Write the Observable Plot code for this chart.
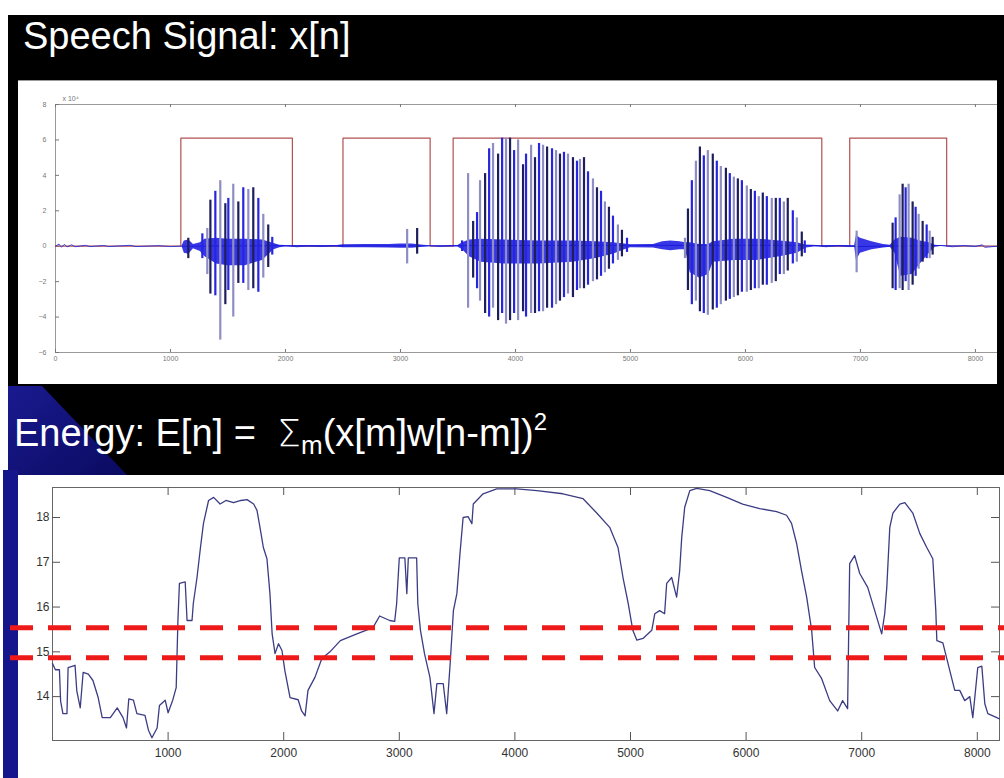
<!DOCTYPE html>
<html><head><meta charset="utf-8">
<script src="https://cdn.jsdelivr.net/npm/d3@7"></script>
<script src="https://cdn.jsdelivr.net/npm/@observablehq/plot@0.6"></script>
<style>
html,body{margin:0;padding:0;background:#fff;}
#slide{position:relative;width:1004px;height:778px;overflow:hidden;background:#fff;font-family:"Liberation Sans",Arial,sans-serif;}
#black{position:absolute;left:8px;top:15px;right:0;bottom:0;background:#000;}
.title{position:absolute;color:#fff;font-size:38px;line-height:1;white-space:nowrap;}
#box1{position:absolute;left:18px;top:80px;width:979px;height:304px;background:#fff;border-top:1px solid #999;box-sizing:border-box;}
#box2{position:absolute;left:18px;top:475px;width:986px;height:303px;background:#fff;}
#upper{position:absolute;left:18px;top:80px;}
#lower{position:absolute;left:0;top:470px;}
#deco{position:absolute;left:0;top:0;}
sub{font-size:26px;vertical-align:-8px;}
sup{font-size:24px;vertical-align:16px;}
.sig{font-family:"DejaVu Sans",sans-serif;font-weight:300;font-size:38px;}
</style></head>
<body>
<div id="slide">
  <div id="black"></div>
  <svg id="deco" width="1004" height="778">
    <defs><linearGradient id="g" x1="0" y1="0" x2="1" y2="1">
      <stop offset="0" stop-color="#1a1a90"/><stop offset="1" stop-color="#0a0a60"/></linearGradient></defs>
    <polygon points="8,386 42,386 128,476 8,476" fill="url(#g)"/>
    <rect x="3" y="470" width="15" height="308" fill="#15158c"/>
  </svg>
  <div class="title" style="left:23px;top:17px;">Speech Signal: x[n]</div>
  <div id="box1"></div>
  <div class="title" style="left:14px;top:410px;">Energy: E[n] = &nbsp;<span class="sig">Σ</span><sub>m</sub>(x[m]w[n-m])<sup>2</sup></div>
  <div id="box2"></div>
  <div id="upper"></div>
  <div id="lower"></div>
</div>
<script>
// ---------- Speech signal (units of 1e4) ----------
const upperXTicks = [0,1000,2000,3000,4000,5000,6000,7000,8000];
const upperYTicks = [-6,-4,-2,0,2,4,6,8];

// voiced/unvoiced decision boxes
const boxStart = [1090, 2500, 3458, 6907];
const boxEnd   = [2060, 3258, 6664, 7750];
const boxLevel = 6.1;

// pitch pulses: sample index, positive peak, negative peak
const pulseN = [1155,1277,1320,1347,1390,1433,1477,1503,1546,1590,1633,1677,1720,1764,1807,1850,1885,
  3058,3145,
  3536,3588,3632,3666,3692,3736,3771,3805,3849,3884,3918,3953,3988,4023,4066,4092,4136,4170,4205,4240,
  4275,4318,4353,4387,4422,4457,4500,4535,4561,4596,4631,4674,4709,4744,4778,4813,4848,4891,4926,4970,
  5474,5500,5534,5569,5604,5638,5673,5716,5751,5786,5830,5864,5899,5934,5969,6012,6047,6082,6116,6151,
  6186,6229,6264,6299,6334,6368,6412,6447,6490,6516,
  6967,
  7280,7306,7341,7367,7393,7419,7454,7480,7506,7541,7576,7602,7628];
const pulseTop = [0.45,0.7,1.0,2.6,3.1,3.7,2.4,2.7,3.5,2.5,3.3,3.2,3.3,2.7,1.8,1.2,0.5,
  0.95,1.0,
  0.3,4.1,1.4,1.9,3.7,4.1,5.5,5.8,5.2,6.1,6.1,6.1,5.4,6.0,4.6,5.2,5.7,5.0,5.8,5.7,
  5.6,5.5,5.4,5.2,5.3,5.2,5.0,4.8,4.9,5.0,4.2,3.8,3.3,3.1,2.5,2.2,1.7,1.2,0.9,0.45,
  0.45,2.1,3.7,4.8,5.6,5.1,5.4,5.2,4.8,4.5,4.4,4.1,3.9,3.8,3.7,3.4,3.2,3.1,2.8,3.0,
  2.8,2.7,2.7,2.7,2.5,2.7,2.0,1.6,0.8,0.3,
  0.85,
  1.3,1.6,2.9,3.5,3.3,3.5,2.5,2.2,1.8,1.4,1.2,0.85,0.5];
const pulseBot = [-0.7,-0.7,-1.6,-2.7,-2.8,-5.3,-3.3,-2.5,-4.0,-2.1,-2.1,-2.5,-2.4,-2.6,-1.8,-1.2,-0.5,
  -1.0,-0.45,
  -0.3,-3.5,-1.8,-2.4,-3.1,-3.8,-4.0,-3.5,-4.2,-3.8,-4.4,-4.2,-3.8,-4.2,-3.7,-4.0,-3.8,-3.8,-3.7,-3.7,
  -3.5,-3.5,-3.3,-3.1,-2.9,-2.7,-2.9,-2.5,-2.4,-2.4,-2.2,-2.0,-1.9,-1.7,-1.5,-1.3,-1.0,-0.8,-0.6,-0.35,
  -0.7,-2.5,-3.3,-3.1,-3.7,-3.8,-3.9,-3.6,-3.5,-3.3,-3.1,-3.0,-2.9,-2.8,-2.6,-2.6,-2.5,-2.4,-2.4,-2.2,
  -2.2,-2.1,-2.0,-1.6,-1.6,-1.4,-1.0,-0.9,-0.6,-0.4,
  -1.5,
  -2.4,-2.5,-2.4,-2.5,-2.0,-2.5,-2.2,-1.7,-1.3,-0.9,-0.7,-0.7,-0.5];

// dense oscillation band (envelope of the fine structure)
const coreN  = [0,1100,1120,1160,1200,1260,1300,1400,1500,1650,1800,1850,1900,1950,2000,2450,2500,2700,2900,3000,3100,3200,3260,3500,3540,3600,3700,3900,4200,4500,4700,4850,4950,5000,5200,5280,5350,5430,5480,5520,5600,5680,5720,5900,6100,6300,6450,6530,6600,6950,6965,7000,7100,7200,7260,7300,7350,7450,7520,7600,7650,7700,8192];
const coreLo = [0,0,-0.4,-0.45,-0.15,-0.3,-0.6,-1.0,-1.1,-1.1,-0.8,-0.5,-0.2,-0.08,-0.04,-0.04,-0.08,-0.08,-0.1,-0.12,-0.12,-0.06,-0.02,-0.04,-0.2,-0.6,-0.9,-1.0,-1.0,-0.9,-0.7,-0.45,-0.2,-0.08,-0.1,-0.2,-0.25,-0.2,-0.2,-1.5,-1.8,-1.6,-0.9,-0.8,-0.8,-0.6,-0.4,-0.1,-0.04,-0.04,-0.8,-0.4,-0.2,-0.1,-0.06,-0.4,-1.7,-1.6,-1.0,-0.4,-0.06,-0.02,0];
const coreHi = [0,0,0.3,0.35,0.1,0.2,0.4,0.45,0.4,0.4,0.35,0.25,0.15,0.06,0.04,0.04,0.08,0.1,0.1,0.12,0.12,0.06,0.02,0.04,0.2,0.35,0.4,0.35,0.3,0.3,0.25,0.2,0.12,0.08,0.1,0.25,0.3,0.25,0.2,0.2,0.1,0.1,0.25,0.4,0.4,0.3,0.2,0.06,0.04,0.04,0.6,0.45,0.25,0.1,0.06,0.35,0.5,0.45,0.3,0.2,0.06,0.02,0];

// low-level background noise
const noiseN = [0,30,50,80,100,140,170,260,300,420,460,650,700,900,1000,1080,2000,2100,2200,2300,2420,3260,3350,3450,5050,6600,6700,6800,6900,7700,7800,7900,8000,8060,8080,8192];
const noiseV = [0,0.12,-0.05,0.1,-0.04,0.08,-0.03,0.05,-0.02,0.04,-0.02,0.05,-0.02,0.03,-0.02,0,0.03,-0.03,0.02,-0.02,0.02,0.02,-0.02,0.03,0.05,0.05,-0.03,0.04,-0.02,0.04,-0.03,0.03,-0.02,0.08,-0.06,0];

// ---------- Energy ----------
const lowerXTicks = [1000,2000,3000,4000,5000,6000,7000,8000];
const lowerYTicks = [14,15,16,17,18];
const thresholds = [15.54, 14.87];
const energyN = [0,25,60,70,90,125,135,195,210,240,265,310,350,395,430,500,560,610,640,660,700,730,800,830,860,905,925,975,1000,1040,1070,1085,1098,1148,1164,1207,1218,1250,1280,1306,1350,1394,1450,1500,1566,1630,1683,1740,1769,1800,1824,1855,1881,1900,1925,1955,1985,2010,2055,2125,2155,2185,2210,2270,2330,2400,2490,2633,2772,2830,2917,2960,2977,3000,3048,3065,3078,3150,3160,3183,3218,3265,3300,3325,3380,3410,3440,3468,3498,3525,3552,3595,3628,3640,3725,3843,4016,4190,4415,4590,4708,4820,4892,4935,4980,5020,5055,5108,5184,5210,5252,5295,5313,5356,5399,5425,5443,5469,5513,5573,5685,5832,5970,6117,6264,6350,6393,6437,6480,6524,6567,6593,6654,6723,6792,6835,6878,6896,6939,6983,7052,7130,7173,7199,7217,7243,7270,7330,7373,7442,7503,7563,7615,7641,7650,7702,7762,7805,7848,7891,7935,7961,8004,8039,8065,8091,8169,8192];
const energyE = [14.74,14.6,14.6,13.9,13.62,13.62,14.65,14.7,14.13,13.75,14.54,14.5,14.36,13.98,13.53,13.53,13.75,13.53,13.3,13.95,13.92,13.62,13.58,13.25,13.08,13.3,13.8,13.92,13.64,13.92,14.2,15.7,16.53,16.56,15.7,15.7,16.08,16.66,17.33,17.87,18.38,18.45,18.3,18.38,18.33,18.38,18.4,18.3,18.16,17.7,17.33,17.08,16.3,15.4,14.96,15.18,15.03,14.58,13.98,13.93,13.68,13.57,14.14,14.43,14.85,15.0,15.25,15.4,15.54,15.8,15.7,15.68,16.08,17.1,17.1,16.3,17.1,17.1,16.08,15.48,14.96,14.43,13.62,14.29,14.29,13.62,14.74,15.92,16.3,17.2,18.0,18.02,17.86,18.3,18.53,18.64,18.64,18.6,18.53,18.42,18.1,17.78,17.33,16.66,16.08,15.48,15.26,15.3,15.48,15.85,15.92,15.85,16.53,16.66,16.22,16.8,17.55,18.23,18.6,18.65,18.6,18.45,18.3,18.2,18.13,18.05,17.87,17.42,16.8,16.22,15.48,14.65,14.4,13.91,13.68,13.91,13.73,16.97,17.15,16.75,16.44,15.77,15.4,15.85,16.44,17.78,18.1,18.3,18.33,18.1,17.64,17.33,17.08,15.92,15.25,15.2,14.58,14.14,14.14,13.91,14.0,13.53,14.65,14.68,13.84,13.62,13.53,13.5];

// ---------- build tables ----------
const boxPath = [{n:0, v:0}];
boxStart.forEach((s,i) => {
  boxPath.push({n:s, v:0},{n:s, v:boxLevel},{n:boxEnd[i], v:boxLevel},{n:boxEnd[i], v:0});
});
boxPath.push({n:8192, v:0});
const pulses = pulseN.map((n,i) => ({n, top:pulseTop[i], bot:pulseBot[i], i}));
const core = coreN.map((n,i) => ({n, lo:coreLo[i], hi:coreHi[i]}));
const noise = noiseN.map((n,i) => ({n, v:noiseV[i]}));
const energy = energyN.map((n,i) => ({n, e:energyE[i]}));
const pulseColors = ["#1e1e5c","#2626e0","#8e8ec4"];
const fmt = d3.format("d");

// ---------- upper plot ----------
const uW = 979, uH = 304, uML = 37, uMR = 0, uMT = 24, uMB = 32;
const uInnerH = uH - uMT - uMB, uInnerW = uW - uML - uMR;
const upper = Plot.plot({
  width: uW, height: uH,
  marginLeft: uML, marginRight: uMR, marginTop: uMT, marginBottom: uMB,
  x: {domain: [0, 8192]},
  y: {domain: [-6, 8]},
  color: {type: "identity"},
  style: {background: "transparent", fontFamily: "'Liberation Sans', Arial, sans-serif", fontSize: "7px", color: "#777"},
  marks: [
    Plot.frame({stroke: "#999"}),
    Plot.tickX(upperXTicks, {x: d => d, insetTop: uInnerH - 3, stroke: "#777"}),
    Plot.tickX(upperXTicks, {x: d => d, insetBottom: uInnerH - 3, stroke: "#777"}),
    Plot.tickY(upperYTicks, {y: d => d, insetRight: uInnerW - 4, stroke: "#777"}),
    Plot.line(boxPath, {x: "n", y: "v", stroke: "#b25050", strokeWidth: 1.2}),
    Plot.line(noise, {x: "n", y: "v", stroke: "#3a3ad0", strokeWidth: 1}),
    Plot.areaY(core, {x: "n", y1: "lo", y2: "hi", fill: "#1414e0", fillOpacity: 0.85}),
    Plot.ruleX(pulses, {x: "n", y1: "bot", y2: "top", stroke: d => pulseColors[d.i % 3], strokeWidth: 2.2}),
    Plot.axisX({ticks: upperXTicks, tickFormat: fmt, tickSize: 0, tickPadding: 4, label: null}),
    Plot.axisY({ticks: upperYTicks, tickFormat: fmt, tickSize: 0, tickPadding: 9, label: null}),
    Plot.text(["x 10\u2074"], {frameAnchor: "top-left", dx: 7, dy: -8, textAnchor: "start", fill: "#777", fontSize: 7})
  ]
});
document.getElementById("upper").appendChild(upper);

// ---------- lower plot ----------
const lW = 1004, lH = 308, lML = 52, lMR = 5, lMT = 17, lMB = 38;
const lInnerH = lH - lMT - lMB, lInnerW = lW - lML - lMR;
const lower = Plot.plot({
  width: lW, height: lH,
  marginLeft: lML, marginRight: lMR, marginTop: lMT, marginBottom: lMB,
  x: {domain: [0, 8192]},
  y: {domain: [13.02, 18.67]},
  style: {background: "transparent", fontFamily: "'Liberation Sans', Arial, sans-serif", fontSize: "12px", color: "#333"},
  marks: [
    Plot.frame({stroke: "#666"}),
    Plot.tickX(lowerXTicks, {x: d => d, insetTop: lInnerH - 8, stroke: "#555"}),
    Plot.tickX(lowerXTicks, {x: d => d, insetBottom: lInnerH - 8, stroke: "#555"}),
    Plot.tickY(lowerYTicks, {y: d => d, insetRight: lInnerW - 8, stroke: "#555"}),
    Plot.tickY(lowerYTicks, {y: d => d, insetLeft: lInnerW - 8, stroke: "#555"}),
    Plot.line(energy, {x: "n", y: "e", stroke: "#3c3c84", strokeWidth: 1.3}),
    Plot.ruleY(thresholds, {y: d => d, stroke: "#ee1a1a", strokeWidth: 5, strokeDasharray: "23,15", insetLeft: -(lML - 10), insetRight: -lMR}),
    Plot.axisX({ticks: lowerXTicks, tickFormat: fmt, tickSize: 0, tickPadding: 8, label: null}),
    Plot.axisY({ticks: lowerYTicks, tickFormat: fmt, tickSize: 0, tickPadding: 3, label: null})
  ]
});
document.getElementById("lower").appendChild(lower);
</script>
</body></html>
